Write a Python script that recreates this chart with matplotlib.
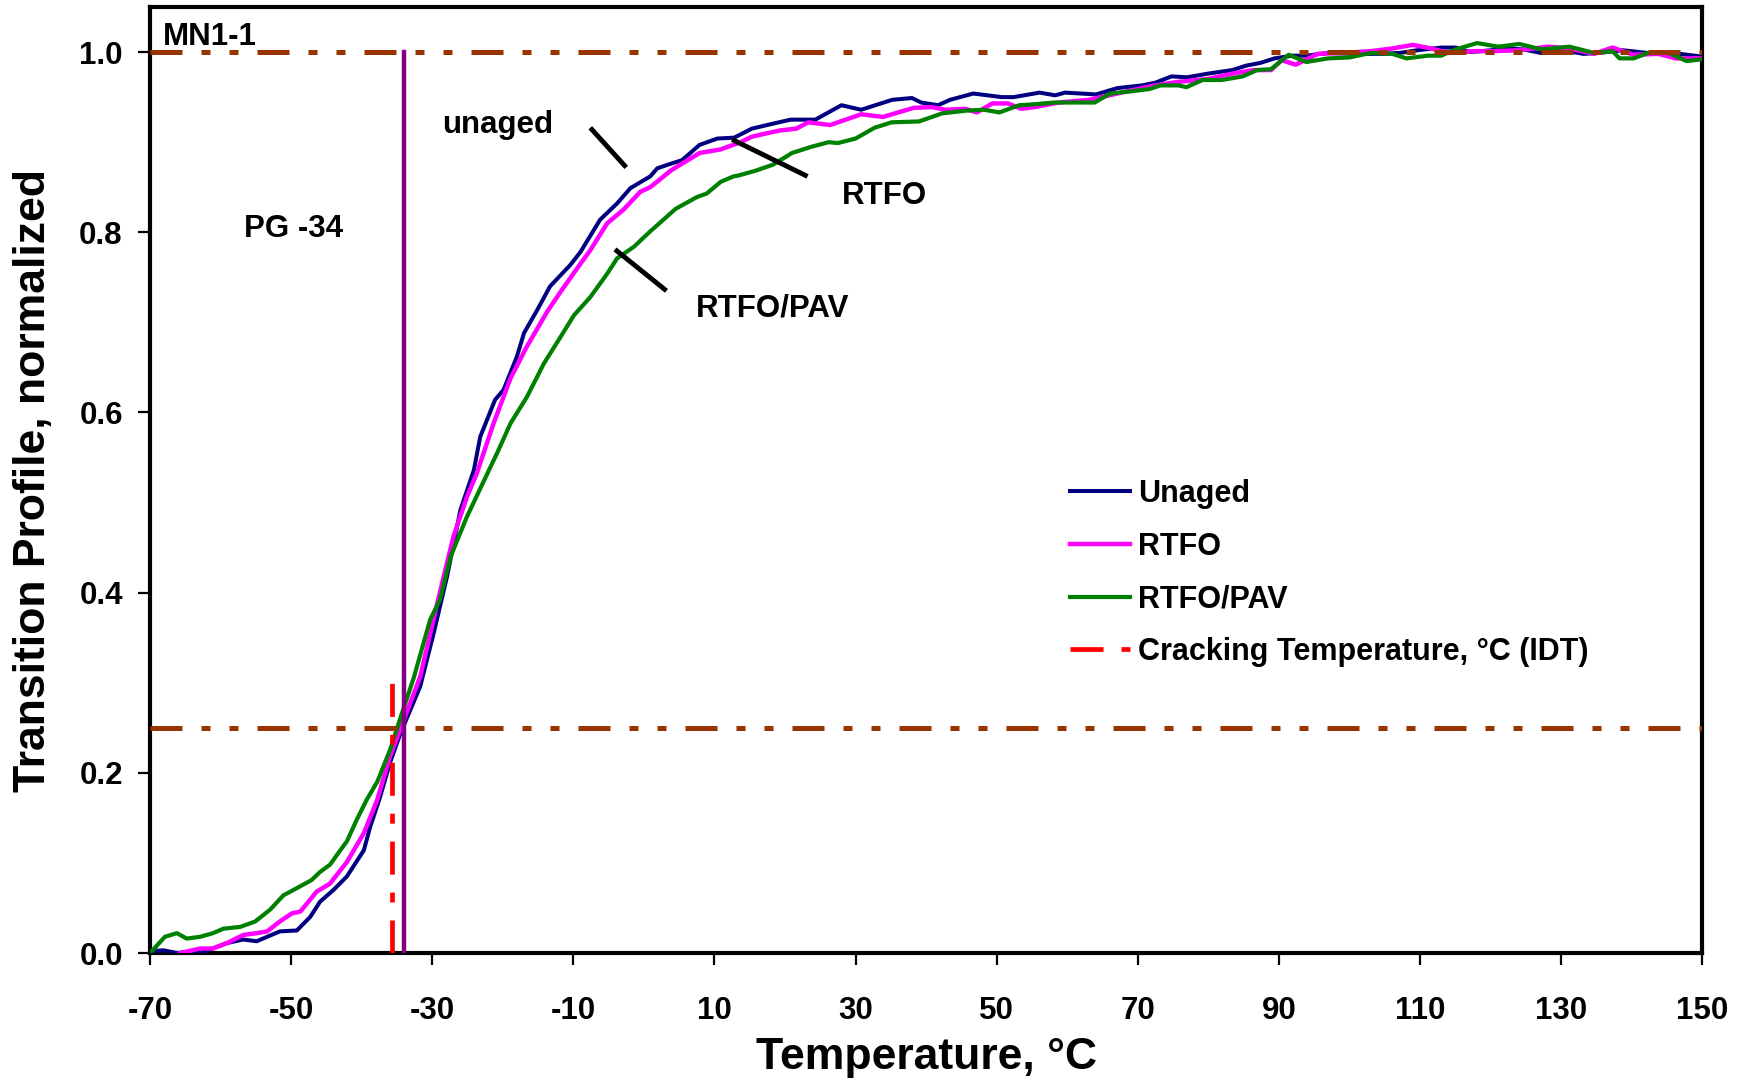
import matplotlib
matplotlib.use("Agg")
import matplotlib.pyplot as plt

plt.rcParams['font.family'] = ['Liberation Sans', 'DejaVu Sans']
plt.rcParams['font.weight'] = 'bold'
plt.rcParams['axes.unicode_minus'] = False

# transition profile readings (temperature in C, normalized value)
unaged_t = [-70, -68.1, -66.2, -64.8, -62.9, -61.1, -59.1, -56.8, -54.9, -53.4,
            -51.6, -49.2, -47.3, -45.9, -44.0, -42.1, -39.7, -38.8, -37.4, -36.0,
            -34.5, -31.7, -29.8, -27.9, -26.0, -24.1, -23.2, -21.1, -19.9, -18.0,
            -17.0, -15.1, -13.3, -10.4, -9.0, -6.2, -3.8, -1.9, 0.9, 1.9,
            3.4, 5.4, 7.9, 10.4, 12.8, 15.3, 18.0, 20.8, 24.3, 28.0,
            30.8, 35.2, 38.0, 39.3, 41.7, 43.4, 46.7, 50.7, 52.4, 56.1,
            58.3, 59.7, 64.1, 67.1, 70.6, 72.5, 74.8, 77.0, 79.9, 83.4,
            85.4, 87.4, 89.4, 91.9, 93.9, 97.0, 101.0, 104.6, 107.1, 109.6,
            113.0, 115.1, 117.1, 120.1, 122.1, 124.6, 127.2, 130.2, 133.2, 135.2,
            138.8, 142.3, 145.8, 150]
unaged_v = [0.002, 0.003, 0.000, 0.001, 0.000, 0.005, 0.011, 0.015, 0.013, 0.018,
            0.024, 0.025, 0.040, 0.057, 0.070, 0.085, 0.114, 0.140, 0.173, 0.211,
            0.244, 0.296, 0.355, 0.418, 0.492, 0.536, 0.573, 0.614, 0.625, 0.662,
            0.688, 0.714, 0.740, 0.764, 0.778, 0.814, 0.832, 0.849, 0.862, 0.871,
            0.875, 0.880, 0.897, 0.904, 0.905, 0.915, 0.920, 0.925, 0.925, 0.941,
            0.936, 0.947, 0.949, 0.944, 0.941, 0.947, 0.954, 0.950, 0.950, 0.955,
            0.952, 0.955, 0.953, 0.960, 0.963, 0.966, 0.973, 0.972, 0.976, 0.980,
            0.985, 0.988, 0.993, 0.996, 0.996, 0.999, 0.998, 0.998, 0.999, 1.002,
            1.005, 1.005, 1.000, 1.002, 1.004, 1.003, 0.999, 1.002, 0.998, 0.999,
            1.002, 0.999, 0.999, 0.995]

rtfo_t = [-65.7, -62.9, -61.1, -59.1, -56.8, -54.9, -53.4, -51.6, -49.9, -48.7,
          -46.4, -44.5, -42.1, -39.7, -37.8, -36.0, -34.3, -31.7, -29.3, -27.0,
          -25.1, -23.7, -21.3, -18.9, -16.6, -13.7, -11.8, -9.0, -7.6, -5.2,
          -2.9, -0.5, 0.9, 3.9, 7.9, 10.9, 13.7, 15.3, 17.5, 19.3,
          21.6, 23.3, 26.4, 30.8, 33.9, 38.2, 40.8, 42.7, 45.6, 47.2,
          49.4, 51.6, 53.5, 55.4, 58.8, 63.1, 67.1, 70.6, 72.5, 75.8,
          79.9, 83.4, 86.4, 88.9, 90.4, 92.4, 95.5, 99.0, 103.0, 106.1,
          109.0, 111.6, 114.1, 117.6, 120.1, 124.1, 128.2, 131.2, 134.7, 137.3,
          140.3, 143.8, 146.3, 150]
rtfo_v = [0.000, 0.005, 0.005, 0.011, 0.020, 0.022, 0.024, 0.035, 0.044, 0.046,
          0.068, 0.077, 0.101, 0.133, 0.170, 0.218, 0.253, 0.307, 0.388, 0.462,
          0.506, 0.532, 0.588, 0.638, 0.673, 0.712, 0.734, 0.765, 0.780, 0.810,
          0.825, 0.845, 0.850, 0.869, 0.888, 0.892, 0.900, 0.906, 0.910, 0.913,
          0.915, 0.922, 0.919, 0.931, 0.928, 0.938, 0.939, 0.936, 0.937, 0.933,
          0.943, 0.943, 0.937, 0.939, 0.944, 0.947, 0.954, 0.960, 0.963, 0.967,
          0.970, 0.976, 0.980, 0.980, 0.991, 0.986, 0.998, 0.999, 1.001, 1.004,
          1.008, 1.004, 0.999, 1.001, 1.001, 1.002, 1.006, 1.004, 0.998, 1.005,
          0.997, 0.998, 0.993, 0.993]

pav_t = [-70, -67.9, -66.2, -64.8, -62.9, -61.1, -59.6, -57.2, -55.1, -53.0,
         -51.1, -49.2, -47.1, -45.9, -44.5, -43.5, -42.1, -40.7, -39.3, -37.8,
         -36.0, -34.3, -32.6, -30.3, -28.9, -27.4, -25.1, -22.2, -20.8, -18.9,
         -16.6, -15.1, -14.2, -11.8, -9.9, -7.6, -5.2, -3.8, -1.4, 0.9,
         4.5, 7.5, 8.9, 10.9, 12.7, 13.4, 15.7, 18.3, 21.0, 23.8,
         26.2, 27.5, 30.0, 32.7, 35.1, 39.0, 42.3, 45.7, 48.2, 50.4,
         53.2, 55.2, 58.2, 63.9, 66.1, 68.6, 71.7, 73.2, 75.8, 76.9,
         79.2, 81.9, 84.9, 86.9, 88.9, 91.4, 93.9, 97.0, 100.0, 103.0,
         106.1, 108.1, 111.1, 113.0, 115.1, 118.1, 121.1, 124.1, 127.2, 131.2,
         134.7, 137.3, 138.3, 140.3, 142.3, 145.3, 147.8, 150]
pav_v = [0.000, 0.018, 0.022, 0.016, 0.018, 0.022, 0.027, 0.029, 0.035, 0.048,
         0.064, 0.072, 0.081, 0.090, 0.098, 0.109, 0.124, 0.148, 0.170, 0.190,
         0.225, 0.266, 0.306, 0.370, 0.392, 0.440, 0.484, 0.532, 0.555, 0.588,
         0.617, 0.640, 0.654, 0.684, 0.708, 0.728, 0.754, 0.771, 0.784, 0.801,
         0.826, 0.839, 0.843, 0.856, 0.862, 0.863, 0.868, 0.875, 0.888, 0.895,
         0.900, 0.899, 0.904, 0.916, 0.922, 0.923, 0.932, 0.935, 0.936, 0.933,
         0.941, 0.942, 0.944, 0.944, 0.954, 0.956, 0.959, 0.963, 0.963, 0.961,
         0.969, 0.969, 0.973, 0.980, 0.981, 0.997, 0.989, 0.993, 0.994, 0.999,
         0.998, 0.993, 0.996, 0.996, 1.003, 1.010, 1.006, 1.009, 1.003, 1.006,
         0.999, 1.001, 0.993, 0.993, 0.999, 0.999, 0.990, 0.992]

pg_grade = -34        # PG low temperature grade
idt_temp = -35.7      # cracking temperature (IDT)
idt_top = 0.30
ref_levels = [1.0, 0.25]

fig = plt.figure(figsize=(17.45, 10.81), dpi=100)
ax = fig.add_axes([0.0860, 0.1184, 0.8894, 0.8751])

ax.plot(unaged_t, unaged_v, color='#000080', lw=2.9, label='Unaged', zorder=3)
ax.plot(rtfo_t, rtfo_v, color='#FF00FF', lw=3.2, label='RTFO', zorder=3)
ax.plot(pav_t, pav_v, color='#008000', lw=3.0, label='RTFO/PAV', zorder=3)

# reference levels, long dash - dot - dot
for lvl in ref_levels:
    ax.axhline(lvl, color='#993300', lw=3.6, dashes=(6.4, 3.8, 1.8, 3.8, 1.8, 3.8),
               dash_capstyle='butt', zorder=4)

ax.plot([pg_grade, pg_grade], [0, 1.0], color='#800080', lw=3.2, zorder=5)
ax.plot([idt_temp, idt_temp], [0, idt_top], color='#FF0000', lw=3.4,
        dashes=(7.0, 3.8, 2.1, 3.8), dash_capstyle='butt', zorder=5,
        label='Cracking Temperature, \u00b0C (IDT)')

# leader lines for the curve labels
leaders = [([-7.6, -2.5], [0.916, 0.872]),
           ([12.5, 23.2], [0.903, 0.862]),
           ([-4.1, 3.2], [0.781, 0.735])]
for lx, ly in leaders:
    ax.plot(lx, ly, color='black', lw=3.5, solid_capstyle='butt', zorder=6)

txt = dict(fontsize=22.5, fontweight='bold', ha='left', va='baseline')
ax.text(-68.2, 1.008, 'MN1-1', **txt)
ax.text(-56.7, 0.795, 'PG -34', **txt)
ax.text(-28.6, 0.910, 'unaged', **txt)
ax.text(28.1, 0.831, 'RTFO', **txt)
ax.text(7.3, 0.706, 'RTFO/PAV', **txt)

ax.set_xlim(-70, 150)
ax.set_ylim(0, 1.05)
ax.set_xticks(range(-70, 151, 20))
ax.set_yticks([0, 0.2, 0.4, 0.6, 0.8, 1.0])
ax.yaxis.set_major_formatter(matplotlib.ticker.FormatStrFormatter('%.1f'))
ax.tick_params(axis='both', direction='out', length=8.6, width=1.6,
               labelsize=22.5)
ax.tick_params(axis='x', pad=22)
ax.tick_params(axis='y', pad=11)
for lab in ax.get_xticklabels() + ax.get_yticklabels():
    lab.set_fontweight('bold')
for sp in ax.spines.values():
    sp.set_linewidth(3)

ax.set_xlabel('Temperature, \u00b0C', fontsize=32, fontweight='bold', va='center')
ax.set_ylabel('Transition Profile, normalized', fontsize=32, fontweight='bold',
              va='center')
ax.xaxis.set_label_coords(0.5, -0.110)
ax.yaxis.set_label_coords(-0.0754, 0.5)

leg = ax.legend(loc='upper left', bbox_to_anchor=(0.593, 0.501), frameon=False,
                fontsize=22, borderpad=0, borderaxespad=0, handlelength=1.95,
                handletextpad=0.25, labelspacing=0.74)
for t in leg.get_texts():
    t.set_fontweight('bold')

fig.savefig('out.png', dpi=100)
